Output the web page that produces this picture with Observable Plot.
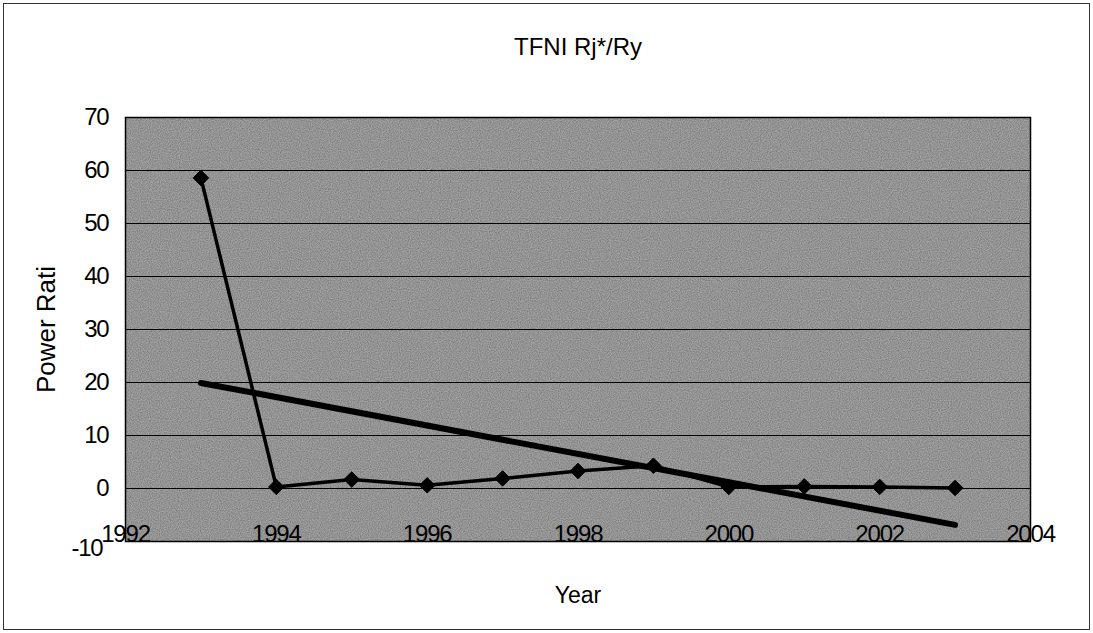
<!DOCTYPE html>
<html>
<head>
<meta charset="utf-8">
<script src="https://cdn.jsdelivr.net/npm/d3@7"></script>
<script src="https://cdn.jsdelivr.net/npm/@observablehq/plot@0.6"></script>
<style>
  html, body { margin: 0; padding: 0; background: #fff; }
  #chart svg { display: block; outline: 1px solid #333; outline-offset: -4px; }
  #chart svg g[aria-label="x-axis tick label"] text,
  #chart svg g[aria-label="y-axis tick label"] text { letter-spacing: -1.2px; }
</style>
</head>
<body>
<div id="chart"></div>
<script>
const chartTitle = "TFNI Rj*/Ry";
const xLabel = "Year";
const yLabel = "Power Rati";
const years = [1993, 1994, 1995, 1996, 1997, 1998, 1999, 2000, 2001, 2002, 2003];
const ratios = [58.6, 0.3, 1.7, 0.6, 1.9, 3.3, 4.3, 0.3, 0.4, 0.3, 0.1];
const xTicks = [1992, 1994, 1996, 1998, 2000, 2002, 2004];
const yTicks = [-10, 0, 10, 20, 30, 40, 50, 60, 70];

const data = years.map((y, i) => ({year: y, ratio: ratios[i]}));
const font = "'Liberation Sans', Arial, sans-serif";

const plot = Plot.plot({
  width: 1093,
  height: 633,
  marginLeft: 125,
  marginRight: 63,
  marginTop: 117,
  marginBottom: 92,
  style: {fontFamily: font, fontSize: "24px", color: "#000", background: "#fff"},
  x: {domain: [1992, 2004]},
  y: {domain: [-10, 70]},
  marks: [
    Plot.frame({fill: "#a2a2a2", stroke: null}),
    Plot.gridY(yTicks.filter(d => d > -10 && d < 70), {stroke: "#000", strokeOpacity: 1, strokeWidth: 1}),
    Plot.frame({stroke: "#000", strokeWidth: 1.5}),
    Plot.axisY({ticks: yTicks.filter(d => d >= 0), tickSize: 0, tickPadding: 17, tickFormat: d => String(d), label: null, fontSize: 24}),
    Plot.axisY({ticks: yTicks.filter(d => d < 0), tickSize: 0, tickPadding: 23, dy: 7, tickFormat: d => String(d), label: null, fontSize: 24}),
    Plot.axisX({ticks: xTicks, tickSize: 0, tickPadding: -17, tickFormat: d => String(d), label: null, fontSize: 24}),
    Plot.linearRegressionY(data, {x: "year", y: "ratio", ci: 0, stroke: "#000", strokeWidth: 6}),
    Plot.line(data, {x: "year", y: "ratio", stroke: "#000", strokeWidth: 3.5}),
    Plot.dot(data, {x: "year", y: "ratio", symbol: "diamond2", r: 7, fill: "#000", stroke: "#000", strokeWidth: 1}),
    Plot.text([chartTitle], {frameAnchor: "top", dy: -80, fontSize: 24, text: d => d}),
    Plot.text([xLabel], {frameAnchor: "bottom", dy: 61, fontSize: 23, text: d => d}),
    Plot.text([yLabel], {frameAnchor: "left", dx: -79, rotate: -90, textAnchor: "middle", fontSize: 26, text: d => d})
  ]
});

// subtle scanned texture inside the plot area
const svg = d3.select(plot);
const defs = svg.insert("defs", ":first-child");
const f = defs.append("filter").attr("id", "tex").attr("x", 0).attr("y", 0).attr("width", 1).attr("height", 1);
f.append("feTurbulence").attr("type", "fractalNoise").attr("baseFrequency", "0.9").attr("numOctaves", 1).attr("seed", 3).attr("result", "fine");
f.append("feColorMatrix").attr("in", "fine").attr("type", "matrix")
  .attr("values", "0 0 0 0 0  0 0 0 0 0  0 0 0 0 0  0 0 0 -1.6 1.1").attr("result", "speck");
f.append("feComposite").attr("in", "speck").attr("in2", "SourceGraphic").attr("operator", "in");
const frameEl = plot.querySelector('[aria-label="frame"]');
const node = frameEl ? (frameEl.tagName.toLowerCase() === "rect" ? frameEl : frameEl.querySelector("rect")) : null;
if (node) {
  const clone = node.cloneNode(true);
  clone.removeAttribute("aria-label");
  clone.setAttribute("fill", "#000");
  clone.setAttribute("filter", "url(#tex)");
  clone.setAttribute("opacity", "0.3");
  node.parentNode.insertBefore(clone, node.nextSibling);
}
document.getElementById("chart").appendChild(plot);
</script>
</body>
</html>
